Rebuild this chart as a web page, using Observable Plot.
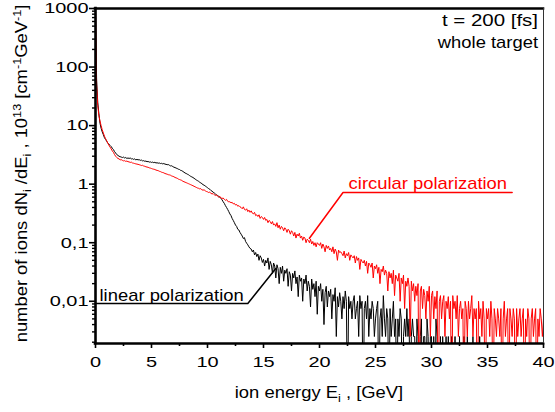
<!DOCTYPE html>
<html><head><meta charset="utf-8">
<script src="https://cdn.jsdelivr.net/npm/d3@7"></script>
<script src="https://cdn.jsdelivr.net/npm/@observablehq/plot@0.6"></script>
<style>html,body{margin:0;padding:0;background:#fff;}</style>
</head><body>
<script>
// energy bins (GeV) are spaced by binWidth, starting at 0
const binWidth = 0.1;

// linear polarization spectrum, dN/dE [10^13 cm^-1 GeV^-1]
const linearPolarization = [
1000, 60, 25, 16, 11, 9, 7.8, 7, 6.2, 5.8,
5.4, 5.0, 4.8, 4.6, 4.4, 4.1, 3.9, 3.6, 3.4, 3.2,
3.1, 3.0, 2.95, 2.9, 2.85, 2.9, 2.8, 2.85, 2.75, 2.8,
2.75, 2.8, 2.7, 2.72, 2.65, 2.7, 2.6, 2.65, 2.6, 2.62,
2.55, 2.58, 2.5, 2.52, 2.46, 2.48, 2.42, 2.44, 2.38, 2.4,
2.35, 2.38, 2.33, 2.36, 2.3, 2.32, 2.28, 2.3, 2.25, 2.27,
2.22, 2.25, 2.2, 2.18, 2.15, 2.16, 2.1, 2.05, 2.06, 2.0,
1.95, 1.92, 1.88, 1.85, 1.8, 1.78, 1.72, 1.7, 1.65, 1.6,
1.55, 1.52, 1.48, 1.45, 1.4, 1.36, 1.33, 1.3, 1.26, 1.22,
1.18, 1.15, 1.12, 1.08, 1.05, 1.02, 0.98, 0.96, 0.93, 0.9,
0.87, 0.84, 0.82, 0.78, 0.76, 0.73, 0.71, 0.68, 0.66, 0.64,
0.62, 0.6, 0.57, 0.54, 0.5, 0.47, 0.43, 0.4, 0.37, 0.34,
0.31, 0.29, 0.26, 0.24, 0.22, 0.2, 0.19, 0.17, 0.165, 0.15,
0.14, 0.13, 0.118, 0.122, 0.105, 0.098, 0.092, 0.085, 0.08, 0.078,
0.07, 0.075, 0.062, 0.068, 0.058, 0.064, 0.05, 0.06, 0.055, 0.046,
0.052, 0.04, 0.05, 0.045, 0.055, 0.035, 0.048, 0.042, 0.03, 0.045,
0.04, 0.025, 0.042, 0.036, 0.02, 0.038, 0.03, 0.04, 0.022, 0.034,
0.03, 0.036, 0.018, 0.032, 0.028, 0.015, 0.03, 0.025, 0.033, 0.02,
0.026, 0.012, 0.028, 0.022, 0.025, 0.01, 0.024, 0.02, 0.028, 0.015,
0.022, 0.018, 0.008, 0.024, 0.016, 0.02, 0.012, 0.022, 0.006, 0.018,
0.015, 0.02, 0.01, 0.016, 0.004, 0.014, 0.018, 0.008, 0.015, 0.012,
0.016, 0.005, 0.013, 0.01, 0.017, 0.0025, 0.012, 0.008, 0.014, 0.01,
0.005, 0.012, 0.0075, 0.015, 0.01, 0, 0.012, 0.0075, 0.01, 0.005,
0.01, 0.0125, 0.005, 0.0075, 0.01, 0.0025, 0.0125, 0.0075, 0.01, 0,
0.0075, 0.01, 0.005, 0.0125, 0.0025, 0.0075, 0.005, 0.01, 0.0075, 0.0025,
0.005, 0.0075, 0.01, 0, 0.005, 0.0075, 0.0025, 0.0125, 0.005, 0.0025,
0.0075, 0.005, 0, 0.0075, 0.0025, 0.005, 0.01, 0.0025, 0.005, 0,
0.005, 0.0025, 0.0075, 0.005, 0, 0.0025, 0.005, 0.0025, 0.0075, 0.0025,
0.005, 0, 0.0025, 0.005, 0.0025, 0.0025, 0, 0.005, 0.0025, 0,
0.0025, 0.005, 0, 0.0025, 0.0025, 0, 0.005, 0.0025, 0, 0.0025,
0.0025, 0, 0.0025, 0, 0.005, 0.0025, 0, 0, 0.0025, 0,
0.0025, 0, 0, 0.0025, 0, 0.0025, 0, 0, 0.0025, 0,
0, 0.0025, 0, 0, 0, 0.0025, 0, 0, 0, 0.0025,
0, 0, 0.0025, 0, 0, 0, 0, 0.0025, 0, 0,
0, 0, 0, 0.0025, 0, 0, 0, 0, 0, 0
];

// circular polarization spectrum, dN/dE [10^13 cm^-1 GeV^-1]
const circularPolarization = [
1000, 50, 22, 15, 12, 10, 8.5, 7.5, 6.6, 6,
5.5, 5.0, 4.6, 4.3, 4.0, 3.7, 3.5, 3.2, 3.0, 2.85,
2.75, 2.7, 2.6, 2.62, 2.55, 2.5, 2.52, 2.45, 2.48, 2.42,
2.4, 2.35, 2.38, 2.3, 2.28, 2.25, 2.22, 2.2, 2.18, 2.15,
2.12, 2.08, 2.1, 2.04, 2.02, 1.98, 1.96, 1.94, 1.9, 1.88,
1.85, 1.82, 1.8, 1.78, 1.74, 1.72, 1.7, 1.66, 1.64, 1.6,
1.58, 1.56, 1.52, 1.5, 1.48, 1.45, 1.44, 1.42, 1.38, 1.36,
1.34, 1.3, 1.28, 1.26, 1.22, 1.2, 1.18, 1.16, 1.12, 1.1,
1.08, 1.06, 1.04, 1.02, 1.0, 0.98, 0.96, 0.94, 0.92, 0.9,
0.88, 0.86, 0.85, 0.83, 0.84, 0.8, 0.79, 0.8, 0.77, 0.75,
0.74, 0.72, 0.73, 0.7, 0.68, 0.69, 0.66, 0.64, 0.66, 0.62,
0.6, 0.62, 0.58, 0.57, 0.58, 0.55, 0.53, 0.55, 0.51, 0.5,
0.5, 0.48, 0.49, 0.46, 0.47, 0.44, 0.45, 0.42, 0.43, 0.41,
0.4, 0.38, 0.41, 0.37, 0.36, 0.38, 0.34, 0.36, 0.33, 0.35,
0.32, 0.31, 0.33, 0.29, 0.3, 0.28, 0.3, 0.26, 0.28, 0.27,
0.25, 0.27, 0.24, 0.25, 0.22, 0.24, 0.23, 0.21, 0.23, 0.2,
0.21, 0.19, 0.22, 0.18, 0.2, 0.17, 0.19, 0.18, 0.16, 0.18,
0.17, 0.15, 0.17, 0.16, 0.14, 0.16, 0.15, 0.13, 0.15, 0.12,
0.14, 0.13, 0.145, 0.12, 0.13, 0.11, 0.125, 0.12, 0.1, 0.115,
0.11, 0.1, 0.115, 0.095, 0.105, 0.09, 0.1, 0.085, 0.1, 0.095,
0.09, 0.1, 0.08, 0.095, 0.085, 0.07, 0.09, 0.08, 0.088, 0.075,
0.08, 0.07, 0.085, 0.065, 0.078, 0.07, 0.05, 0.075, 0.068, 0.07,
0.065, 0.06, 0.072, 0.055, 0.065, 0.06, 0.068, 0.05, 0.062, 0.058,
0.055, 0.06, 0.045, 0.058, 0.05, 0.055, 0.035, 0.052, 0.048, 0.045,
0.05, 0.04, 0.048, 0.03, 0.045, 0.042, 0.038, 0.045, 0.025, 0.04,
0.036, 0.042, 0.03, 0.038, 0.02, 0.035, 0.032, 0.04, 0.028, 0.034,
0.03, 0.015, 0.032, 0.025, 0.03, 0.02, 0.034, 0.0125, 0.028, 0.025,
0.022, 0.03, 0.01, 0.025, 0.02, 0.028, 0.0075, 0.022, 0.018, 0.025,
0.018, 0.0025, 0.022, 0.015, 0.02, 0.01, 0.018, 0.0125, 0.02, 0,
0.015, 0.018, 0.0075, 0.016, 0.0125, 0.005, 0.015, 0.01, 0.018, 0.0025,
0.0125, 0.015, 0.005, 0.012, 0.0075, 0.015, 0, 0.01, 0.0125, 0.005,
0.01, 0.0125, 0.0025, 0.01, 0.0075, 0.012, 0.005, 0.01, 0, 0.0125,
0.0075, 0.01, 0.005, 0.0125, 0.0025, 0.0075, 0.01, 0.005, 0.0075, 0,
0.01, 0.0075, 0.0025, 0.01, 0.005, 0.0075, 0.0125, 0.0025, 0.0075, 0.005,
0.0075, 0, 0.01, 0.005, 0.0075, 0.0025, 0.01, 0.005, 0, 0.0075,
0.005, 0.0075, 0.0025, 0.01, 0.005, 0, 0.0075, 0.005, 0.0025, 0.0075,
0.005, 0.0025, 0.0075, 0, 0.005, 0.01, 0.0025, 0.005, 0.0075, 0,
0.0075, 0.005, 0.0025, 0.0075, 0.005, 0, 0.0075, 0.0025, 0.005, 0.0075,
0.0025, 0.005, 0.0075, 0, 0.005, 0.0025, 0.0075, 0.005, 0, 0.005,
0.0075, 0.0025, 0.005, 0.0075, 0, 0.005, 0.0025, 0.0075, 0.005, 0.0025,
0.005
];

const xDomain = [0, 40];
const yDomain = [0.0019, 1000];
const xTicks = [0, 5, 10, 15, 20, 25, 30, 35, 40];
const xMinorTicks = [2.5, 7.5, 12.5, 17.5, 22.5, 27.5, 32.5, 37.5];
const yTicks = [0.01, 0.1, 1, 10, 100, 1000];
const yTickLabels = ["0,01", "0,1", "1", "10", "100", "1000"];

// annotations
const seriesLabels = [
  {text: "circular polarization", x: 22.6, y: 1.03, color: "#ff0000"},
  {text: "linear polarization", x: 0.36, y: 0.0126, color: "#000000"}
];
const circularCallout = [{x: 37.2, y: 0.72}, {x: 22.1, y: 0.72}, {x: 19.1, y: 0.119}];
const linearCallout = [{x: 0, y: 0.00916}, {x: 13.6, y: 0.00916}, {x: 16.1, y: 0.0363}];
const infoLines = ["t = 200 [fs]", "whole target"];

const yMinorTicks = [];
for (const dec of [0.001, 0.01, 0.1, 1, 10, 100]) {
  for (let k = 2; k <= 9; k++) {
    const v = +(k * dec).toPrecision(3);
    if (v >= yDomain[0] && v <= yDomain[1]) yMinorTicks.push(v);
  }
}

const rows = (vals) => vals.map((v, i) => ({E: +(i * binWidth).toFixed(2), v}));
const linRows = rows(linearPolarization);
const circRows = rows(circularPolarization);
const floorValue = 1e-4; // empty bins drop below the frame
const yOf = d => Math.max(d.v, floorValue);

const FONT = "'Liberation Sans', Arial, sans-serif";

const chart = Plot.plot({
  width: 555, height: 412,
  marginLeft: 95, marginRight: 12, marginTop: 8, marginBottom: 69,
  style: {fontFamily: FONT, fontSize: "15px", color: "#000", background: "#fff", overflow: "visible"},
  x: {domain: xDomain},
  y: {type: "log", domain: yDomain},
  marks: [
    Plot.line(linRows, {x: "E", y: yOf, stroke: "#000", strokeWidth: 1, clip: true}),
    Plot.line(circRows, {x: "E", y: yOf, stroke: "#ff0000", strokeWidth: 1, clip: true}),
    Plot.axisX({ticks: xTicks, tickSize: 5, tickPadding: 8, tickFormat: d => String(d), label: null, strokeWidth: 1.6, fontSize: 15}),
    Plot.axisX({ticks: xMinorTicks, tickSize: 3, tickFormat: () => "", label: null, strokeWidth: 1.6}),
    Plot.axisY({ticks: yTicks, tickSize: 6, tickPadding: 1, tickFormat: d => yTickLabels[yTicks.indexOf(d)], label: null, strokeWidth: 1.6, fontSize: 15}),
    Plot.axisY({ticks: yMinorTicks, tickSize: 3, tickFormat: () => "", label: null, strokeWidth: 1.4}),
    Plot.ruleX([xDomain[0]], {strokeWidth: 2.6, strokeLinecap: "square"}),
    Plot.ruleY([yDomain[0]], {strokeWidth: 2.6, strokeLinecap: "square"}),
    Plot.ruleY([yDomain[1]], {strokeWidth: 2.6, strokeLinecap: "square"}),
    Plot.ruleX([xDomain[1]], {strokeWidth: 1, stroke: "#333"}),
    Plot.line(circularCallout, {x: "x", y: "y", stroke: "#ff0000", strokeWidth: 1.5}),
    Plot.line(linearCallout, {x: "x", y: "y", stroke: "#000", strokeWidth: 1.5}),
    Plot.text(seriesLabels, {x: "x", y: "y", text: "text", fill: "color", textAnchor: "start", fontSize: 16})
  ]
});

document.body.appendChild(chart);
const svg = d3.select(chart.tagName.toLowerCase() === "svg" ? chart : chart.querySelector("svg"));

// wide glyphs as in the reference: stretch each text along its own direction
svg.selectAll("text").each(function() {
  const isTick = this.closest('[aria-label$="tick label"]') !== null;
  const k = isTick ? 1.33 : 1.15;
  const tr = this.getAttribute("transform") || "";
  this.setAttribute("transform", (tr + ` scale(${k},1)`).trim());
});

// info text, top right
infoLines.forEach((line, i) => {
  svg.append("text")
    .attr("transform", `translate(538,${26 + 22 * i}) scale(${i === 0 ? 1.28 : 1.15},1)`)
    .attr("text-anchor", "end").attr("font-family", FONT).attr("font-size", 16).attr("fill", "#000")
    .text(line);
});

// axis titles with sub/superscripts
const xl = svg.append("text")
  .attr("transform", "translate(319,398) scale(1.15,1)")
  .attr("text-anchor", "middle").attr("font-family", FONT).attr("font-size", 16).attr("fill", "#000");
xl.append("tspan").text("ion energy E");
xl.append("tspan").attr("dy", 4).attr("font-size", 11).text("i");
xl.append("tspan").attr("dy", -4).text(" , [GeV]");

const yl = svg.append("text")
  .attr("transform", "translate(27,173.5) rotate(-90) scale(1.15,1)")
  .attr("text-anchor", "middle").attr("font-family", FONT).attr("font-size", 16).attr("fill", "#000");
const parts = [
  ["number of ions dN", 0], ["i", 1], [" /dE", 0], ["i", 1], [" , 10", 0], ["13", 2],
  [" [cm", 0], ["-1", 2], ["GeV", 0], ["-1", 2], ["]", 0]
];
let shift = 0;
for (const [t, kind] of parts) {
  const target = kind === 1 ? 4 : kind === 2 ? -6 : 0;
  const sp = yl.append("tspan").attr("dy", target - shift).text(t);
  if (kind) sp.attr("font-size", 11);
  shift = target;
}
</script>
</body></html>
